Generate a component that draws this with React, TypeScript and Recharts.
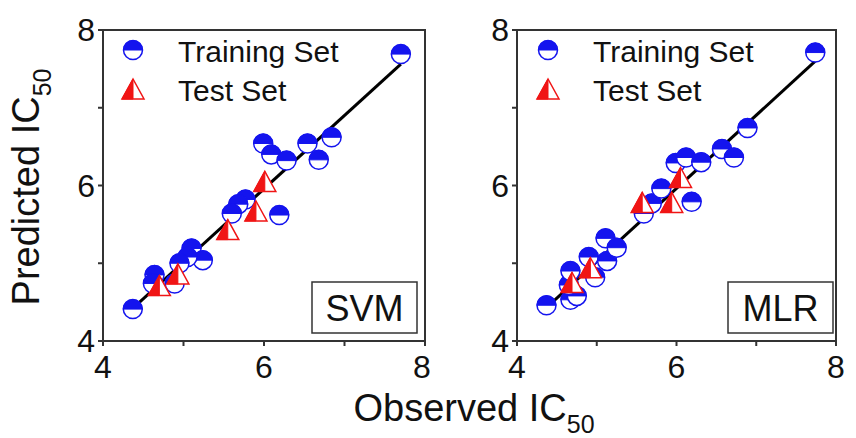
import { ScatterChart, Scatter, XAxis, YAxis, ReferenceLine, ReferenceArea } from "recharts";

const axisTicks = [4, 5, 6, 7, 8];
const tickLabels: Record<number, string> = { 4: "4", 6: "6", 8: "8" };

// SVM panel
const svmTrainObs = [7.7, 4.37, 5.99, 6.09, 6.28, 6.54, 6.84, 6.68, 6.19, 5.77, 5.68, 5.6, 5.1, 5.24, 5.05, 4.95, 4.89, 4.64, 4.62];
const svmTrainPred = [7.69, 4.41, 6.54, 6.4, 6.32, 6.54, 6.62, 6.33, 5.62, 5.82, 5.76, 5.64, 5.19, 5.04, 5.08, 5.0, 4.74, 4.85, 4.74];
const svmTestObs = [4.7, 4.93, 5.55, 5.9, 6.01];
const svmTestPred = [4.7, 4.85, 5.42, 5.66, 6.04];
const svmFitObs = [4.39, 7.7];
const svmFitPred = [4.44, 7.56];

// MLR panel
const mlrTrainObs = [7.74, 4.37, 4.67, 4.75, 4.65, 4.67, 4.9, 4.98, 5.13, 5.11, 5.25, 5.59, 5.69, 5.81, 5.99, 6.12, 6.31, 6.57, 6.72, 6.89, 6.19];
const mlrTrainPred = [7.71, 4.46, 4.53, 4.58, 4.72, 4.9, 5.08, 4.82, 5.03, 5.32, 5.2, 5.64, 5.77, 5.96, 6.29, 6.36, 6.3, 6.47, 6.36, 6.74, 5.79];
const mlrTestObs = [4.69, 4.92, 5.57, 5.94, 6.05];
const mlrTestPred = [4.74, 4.93, 5.77, 5.77, 6.09];
const mlrFitObs = [4.37, 7.74];
const mlrFitPred = [4.43, 7.6];

const BLUE = "#1414ee";
const RED = "#f01515";
const AXIS = "#333";
const FONT = "'Liberation Sans', Arial, sans-serif";

const toPoints = (xs: number[], ys: number[]) => xs.map((x, i) => ({ x, y: ys[i] }));

function HalfCircle({ cx, cy }: any) {
  const r = 9.5;
  return (
    <g>
      <circle cx={cx} cy={cy} r={r} fill="#fff" stroke={BLUE} strokeWidth={1.5} />
      <path d={`M${cx - r},${cy} A${r},${r} 0 0 1 ${cx + r},${cy} Z`} fill={BLUE} stroke={BLUE} strokeWidth={1} />
    </g>
  );
}

function HalfTriangle({ cx, cy }: any) {
  const top = cy - 11;
  const bot = cy + 9;
  return (
    <g>
      <polygon points={`${cx},${top} ${cx - 11},${bot} ${cx + 11},${bot}`} fill="#fff" stroke={RED} strokeWidth={1.5} />
      <polygon points={`${cx},${top} ${cx - 11},${bot} ${cx},${bot}`} fill={RED} stroke={RED} strokeWidth={1} />
    </g>
  );
}

interface PanelProps {
  left: number;
  width: number;
  yAxisWidth: number;
  rightMargin: number;
  trainObs: number[];
  trainPred: number[];
  testObs: number[];
  testPred: number[];
  fitObs: number[];
  fitPred: number[];
}

function Panel(p: PanelProps) {
  const tickStyle = { fontSize: 32, fill: "#111", fontFamily: FONT };
  return (
    <div style={{ position: "absolute", left: p.left, top: 0 }}>
      <ScatterChart width={p.width} height={438} margin={{ top: 30, right: p.rightMargin, left: 0, bottom: 0 }}>
        <XAxis
          type="number"
          dataKey="x"
          domain={[4, 8]}
          ticks={axisTicks}
          tickFormatter={(v) => tickLabels[v] ?? ""}
          tick={tickStyle}
          tickSize={5}
          tickMargin={9}
          height={97}
          axisLine={{ stroke: AXIS, strokeWidth: 2 }}
          tickLine={{ stroke: AXIS, strokeWidth: 2 }}
          allowDataOverflow
        />
        <YAxis
          type="number"
          dataKey="y"
          domain={[4, 8]}
          ticks={axisTicks}
          tickFormatter={(v) => tickLabels[v] ?? ""}
          tick={tickStyle}
          tickSize={5}
          tickMargin={3}
          width={p.yAxisWidth}
          axisLine={{ stroke: AXIS, strokeWidth: 2 }}
          tickLine={{ stroke: AXIS, strokeWidth: 2 }}
          allowDataOverflow
        />
        <ReferenceArea x1={4} x2={8} y1={4} y2={8} fill="none" stroke={AXIS} strokeWidth={2} />
        <ReferenceLine
          segment={[
            { x: p.fitObs[0], y: p.fitPred[0] },
            { x: p.fitObs[1], y: p.fitPred[1] },
          ]}
          stroke="#000"
          strokeWidth={3}
        />
        <Scatter data={toPoints(p.trainObs, p.trainPred)} shape={<HalfCircle />} isAnimationActive={false} />
        <Scatter data={toPoints(p.testObs, p.testPred)} shape={<HalfTriangle />} isAnimationActive={false} />
      </ScatterChart>
    </div>
  );
}

function Overlay() {
  const legend = (x: number) => (
    <g>
      <HalfCircle cx={x} cy={50} />
      <text x={x + 45} y={62} fontSize={30} fill="#111">Training Set</text>
      <HalfTriangle cx={x} cy={90} />
      <text x={x + 45} y={101} fontSize={30} fill="#111">Test Set</text>
    </g>
  );
  const tag = (x: number, label: string) => (
    <g>
      <rect x={x} y={282} width={105} height={51} fill="#fff" stroke={AXIS} strokeWidth={1.5} />
      <text x={x + 52.5} y={321} fontSize={36} textAnchor="middle" fill="#111">{label}</text>
    </g>
  );
  return (
    <svg
      width={856}
      height={438}
      style={{ position: "absolute", left: 0, top: 0, pointerEvents: "none", fontFamily: FONT }}
    >
      {legend(133)}
      {legend(548)}
      {tag(312, "SVM")}
      {tag(728, "MLR")}
      <text x={474} y={421} fontSize={38} textAnchor="middle" fill="#111">
        Observed IC<tspan fontSize={25} dy={12}>50</tspan>
      </text>
      <text transform="translate(39,187) rotate(-90)" fontSize={38} textAnchor="middle" fill="#111">
        Predicted IC<tspan fontSize={25} dy={12}>50</tspan>
      </text>
    </svg>
  );
}

export default function App() {
  return (
    <div style={{ position: "absolute", left: 0, top: 0, width: 856, height: 438, background: "#fff", fontFamily: FONT }}>
      <Panel
        left={0}
        width={430}
        yAxisWidth={103}
        rightMargin={5}
        trainObs={svmTrainObs}
        trainPred={svmTrainPred}
        testObs={svmTestObs}
        testPred={svmTestPred}
        fitObs={svmFitObs}
        fitPred={svmFitPred}
      />
      <Panel
        left={430}
        width={426}
        yAxisWidth={87}
        rightMargin={20}
        trainObs={mlrTrainObs}
        trainPred={mlrTrainPred}
        testObs={mlrTestObs}
        testPred={mlrTestPred}
        fitObs={mlrFitObs}
        fitPred={mlrFitPred}
      />
      <Overlay />
    </div>
  );
}
